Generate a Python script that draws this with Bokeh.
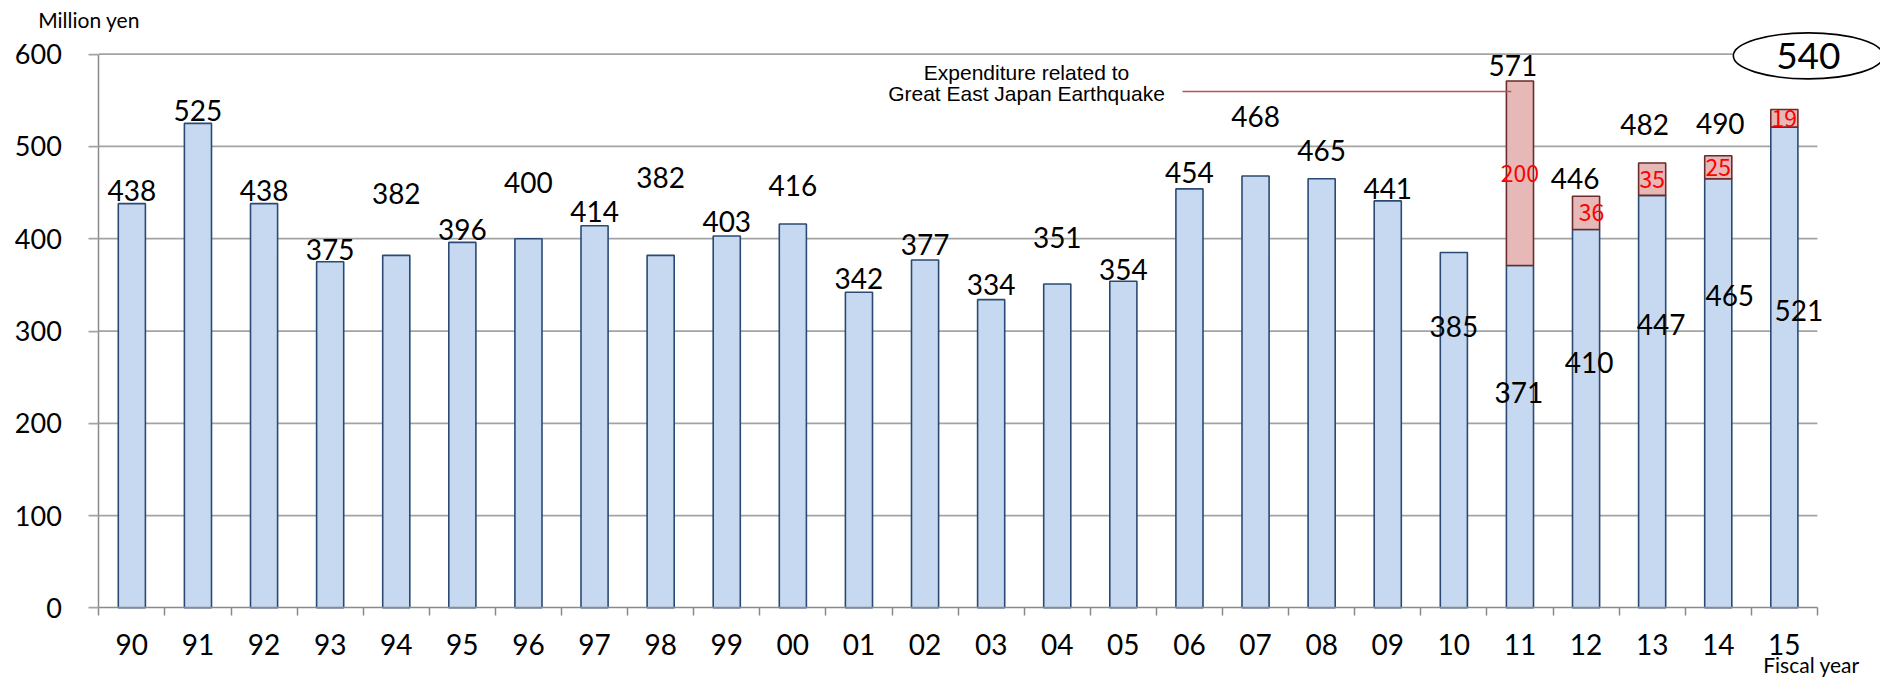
from bokeh.plotting import figure
from bokeh.models import Range1d, FixedTicker, Label, CustomJSTickFormatter
from bokeh.core.properties import value
from bokeh.embed import file_html
from bokeh.resources import INLINE

# ---------------- data ----------------
years = ["90", "91", "92", "93", "94", "95", "96", "97", "98", "99", "00", "01", "02",
         "03", "04", "05", "06", "07", "08", "09", "10", "11", "12", "13", "14", "15"]
regular = [438, 525, 438, 375, 382, 396, 400, 414, 382, 403, 416, 342, 377,
           334, 351, 354, 454, 468, 465, 441, 385, 371, 410, 447, 465, 521]
quake = [0, 0, 0, 0, 0, 0, 0, 0, 0, 0, 0, 0, 0,
         0, 0, 0, 0, 0, 0, 0, 0, 200, 36, 35, 25, 19]
y_ticks = [0, 100, 200, 300, 400, 500, 600]

# ---------------- label layout (pixels) ----------------
total_dy = [13, 12.5, 13, 12, 62, 13, 56, 14, 78, 14.7, 38, 14, 15,
            15, 46, 12, 16, 59, 28, 12, -74, 15, 18, 39, 32, 53.7]
total_dx = [0, 0, 0, 0, 0, 0, 0, 0, 0, 0, 0, 0, 0,
            0, 0, 0, 0, 0, 0, 0, 0, -7, -11, -7.5, 2, 24]
inner_dy = [-127, -133, -129, -117, -183]
inner_dx = [-1, 3, 9, 11.5, 14.6]
red_dx = [0, 5.5, 0, 0, 0]

# ---------------- geometry ----------------
W, H = 1880, 677
X0, Y0 = 98.3, 607.3        # page position of data (0, 0)
CAT = 66.1                  # px per category
YPX = (607.3 - 53.7) / 600  # px per unit
n = len(years)

def px_x(page_x):
    return (page_x - X0) / CAT

def px_y(page_y):
    return (Y0 - page_y) / YPX

FONT = "Lato"
GRID = "#A3A3A3"
AXIS = "#8A8A8A"
FS = "28px"

p = figure(width=W, height=H, x_range=Range1d(px_x(0), px_x(W)), y_range=Range1d(px_y(H), px_y(0)),
           output_backend="svg", toolbar_location=None, title_location=None,
           min_border_left=0, min_border_right=0, min_border_top=0, min_border_bottom=0)
p.outline_line_color = None
p.background_fill_color = "white"
p.border_fill_color = "white"
p.xgrid.visible = False
p.ygrid.visible = False

# axes (fixed inside the frame at data 0)
p.xaxis.fixed_location = 0
p.xaxis.ticker = FixedTicker(ticks=[i + 0.5 for i in range(n)], minor_ticks=list(range(n + 1)))
p.xaxis.formatter = CustomJSTickFormatter(args=dict(labels=years),
                                          code="return labels[Math.floor(tick)] || '';")
p.xaxis.bounds = (0, n)
p.xaxis.major_tick_line_color = None
p.xaxis.major_tick_out = 0
p.xaxis.major_tick_in = 0
p.xaxis.minor_tick_line_color = AXIS
p.xaxis.minor_tick_line_width = 1.5
p.xaxis.minor_tick_out = 8
p.xaxis.minor_tick_in = 0
p.xaxis.axis_line_color = AXIS
p.xaxis.axis_line_width = 1.5
p.xaxis.major_label_standoff = 18
p.xaxis.major_label_text_font = FONT
p.xaxis.major_label_text_font_size = FS
p.xaxis.major_label_text_color = "black"

p.yaxis.fixed_location = 0
p.yaxis.ticker = FixedTicker(ticks=y_ticks)
p.yaxis.bounds = (0, 600)
p.yaxis.major_tick_out = 10
p.yaxis.major_tick_in = 0
p.yaxis.major_tick_line_color = GRID
p.yaxis.major_tick_line_width = 1.75
p.yaxis.minor_tick_line_color = None
p.yaxis.axis_line_color = AXIS
p.yaxis.axis_line_width = 1.5
p.yaxis.major_label_standoff = 27
p.yaxis.major_label_text_font = FONT
p.yaxis.major_label_text_font_size = "27px"
p.yaxis.major_label_text_color = "black"

# gridlines
gy = [t for t in y_ticks if t > 0]
p.segment(x0=[0] * len(gy), y0=gy, x1=[n] * len(gy), y1=gy, line_color=GRID, line_width=1.75)

# bars
xs = [i + 0.5 for i in range(n)]
total = [r + q for r, q in zip(regular, quake)]
p.vbar(x=xs, bottom=0, top=regular, width=0.41, fill_color="#C6D9F1",
       line_color="#2B4A73", line_width=1.6)
qi = [i for i in range(n) if quake[i] > 0]
p.vbar(x=[xs[i] for i in qi], bottom=[regular[i] for i in qi], top=[total[i] for i in qi],
       width=0.41, fill_color="#E6B9B8", line_color="#6B2B2A", line_width=1.6)

# leader line + annotation
p.line(x=[px_x(1182), px_x(1510.7)], y=[px_y(91), px_y(91)], line_color="#C0504D", line_width=1.6)
p.text(x=[px_x(1026), px_x(1026)], y=[px_y(72), px_y(92.8)],
       text=["Expenditure related to", "Great East Japan Earthquake"],
       text_align="center", text_baseline="middle",
       text_font=value("Liberation Sans"), text_font_size=value("21px"), text_color="black")

# total labels (all but last, which is circled)
m = n - 1
p.text(x=xs[:m], y=total[:m], text=[str(v) for v in total[:m]],
       x_offset=total_dx[:m], y_offset=[-d for d in total_dy[:m]],
       text_align="center", text_baseline="middle",
       text_font=value(FONT), text_font_size=value(FS), text_color="black")

# inner regular labels for stacked years
p.text(x=[xs[i] for i in qi], y=[regular[i] for i in qi], text=[str(regular[i]) for i in qi],
       x_offset=inner_dx, y_offset=[-d for d in inner_dy],
       text_align="center", text_baseline="middle",
       text_font=value(FONT), text_font_size=value(FS), text_color="black")

# red quake labels
p.text(x=[xs[i] for i in qi], y=[regular[i] + quake[i] / 2 for i in qi], text=[str(quake[i]) for i in qi],
       x_offset=red_dx, text_align="center", text_baseline="middle",
       text_font=value("Noto Sans CJK JP"), text_font_size=value("23px"), text_color="#FF0000")

# circled last total
ex = xs[-1] + total_dx[-1] / CAT
ey = total[-1] + total_dy[-1] / YPX
p.ellipse(x=[ex], y=[ey], width=150, height=46, width_units="screen", height_units="screen",
          fill_color="white", line_color="black", line_width=1.6)
p.text(x=[ex], y=[ey], text=[str(total[-1])], text_align="center", text_baseline="middle",
       text_font=value(FONT), text_font_size=value("37px"), text_color="black")

# axis titles
p.add_layout(Label(x=px_x(37.7), y=px_y(19), text="Million yen", text_font=FONT,
                   text_font_size="21px", text_baseline="alphabetic", text_align="left",
                   text_color="black"))
p.add_layout(Label(x=px_x(1762.7), y=px_y(664), text="Fiscal year", text_font=FONT,
                   text_font_size="21px", text_baseline="alphabetic", text_align="left",
                   text_color="black"))

open("out.html", "w").write(file_html(p, INLINE))
